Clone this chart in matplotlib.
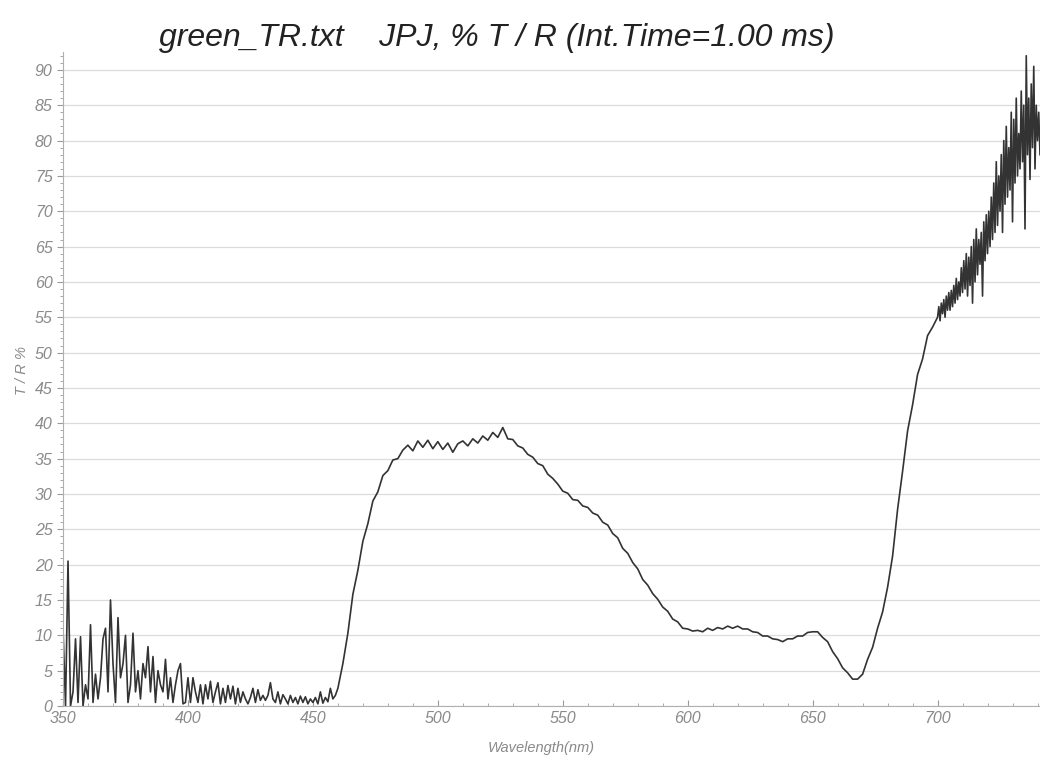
import numpy as np
import matplotlib
matplotlib.use("Agg")
import matplotlib.pyplot as plt
from matplotlib.ticker import MultipleLocator

# Valores lidos do espectro (green_TR.txt)
# faixa azul, ruidosa, 350-460 nm, passo 1 nm
wl_azul = np.arange(350, 461, 1)
tr_azul = [11, 0, 20.5, 0, 2, 9.5, 0.5, 9.8, 0, 3,
           1, 11.5, 0.5, 4.5, 1, 4, 9.5, 11, 2, 15,
           6, 0.5, 12.5, 4, 6, 10, 0.5, 3, 10.3, 2,
           5, 1, 6, 4, 8.4, 2, 7, 0.5, 5, 3,
           2, 6.6, 1, 4, 0.5, 3, 5, 6, 0.3, 0.5,
           4, 0.5, 4, 2, 0.5, 3, 0.3, 3, 1, 3.5,
           0.5, 2, 3.3, 0.3, 2.5, 0.5, 2.9, 1, 2.8, 0.3,
           2.5, 0.5, 2, 1, 0.3, 1.2, 2.5, 0.5, 2.3, 0.8,
           1.5, 0.8, 1.5, 3.3, 1, 0.5, 2, 0.3, 1.6, 1,
           0.3, 1.5, 0.5, 1.2, 0.3, 1.4, 0.5, 1.3, 0.3, 1,
           0.5, 1.2, 0.3, 2, 0.4, 1.2, 0.6, 2.5, 1, 1.5,
           2.5]

# faixa central, 462-698 nm, passo 2 nm
wl_meio = np.arange(462, 699, 2)
tr_meio = [6, 10.3, 15.8, 19.2, 23.3, 25.8, 29.0, 30.3, 32.6, 33.3,
           34.8, 35.0, 36.2, 36.9, 36.1, 37.5, 36.6, 37.6, 36.4, 37.4,
           36.3, 37.2, 35.9, 37.1, 37.5, 36.8, 37.8, 37.2, 38.2, 37.6,
           38.7, 38.0, 39.4, 37.8, 37.7, 36.8, 36.5, 35.6, 35.2, 34.3,
           34.0, 32.8, 32.2, 31.4, 30.4, 30.1, 29.2, 29.1, 28.3, 28.1,
           27.3, 27.0, 26.0, 25.6, 24.4, 23.8, 22.3, 21.6, 20.3, 19.4,
           17.9, 17.1, 15.9, 15.1, 14.0, 13.4, 12.3, 11.9, 11.0, 10.9,
           10.6, 10.7, 10.5, 11.0, 10.7, 11.1, 10.9, 11.3, 11.0, 11.3,
           10.9, 10.9, 10.5, 10.4, 9.9, 9.9, 9.5, 9.4, 9.1, 9.5,
           9.5, 9.9, 9.9, 10.4, 10.5, 10.5, 9.7, 9.1, 7.7, 6.7,
           5.4, 4.7, 3.8, 3.8, 4.5, 6.6, 8.3, 11.0, 13.3, 16.8,
           21.2, 27.8, 33.2, 38.9, 42.6, 46.9, 49.1, 52.4, 53.6]

# faixa vermelha, ruidosa, 700-741 nm, passo 0.5 nm
wl_verm = np.arange(700, 741.01, 0.5)
tr_verm = [55, 56.5, 54.5, 57, 55.5, 57.5, 55, 58, 56, 58.5,
           56, 58.8, 56.5, 59.5, 57, 60.5, 57.5, 60, 58, 62,
           58.5, 63, 59, 64, 58, 63.5, 59.5, 65, 57, 66,
           60, 67.5, 61, 66, 62.5, 67, 58, 68.5, 63, 69.5,
           64, 70, 65, 72, 66, 74, 67, 77, 68, 75,
           70, 78, 67, 80, 71, 82, 72, 79, 73, 84,
           68.5, 83, 74, 86, 75, 81, 76, 87, 77, 85,
           67.5, 92, 78, 86, 74.5, 88, 79, 90.5, 76, 85,
           80, 84, 78]

wl = np.concatenate([wl_azul, wl_meio, wl_verm])
tr = np.concatenate([tr_azul, tr_meio, tr_verm])

cinza = '#8a8a8a'
fig = plt.figure(figsize=(10.4, 7.62), dpi=100)
ax = fig.add_axes([0.0606, 0.0735, 0.9394, 0.858])
ax.plot(wl, tr, color='#333333', linewidth=1.2)

ax.set_xlim(350, 741)
ax.set_ylim(0, 92.5)
ax.xaxis.set_major_locator(MultipleLocator(50))
ax.xaxis.set_minor_locator(MultipleLocator(10))
ax.yaxis.set_major_locator(MultipleLocator(5))
ax.yaxis.set_minor_locator(MultipleLocator(1))
ax.grid(True, axis='y', which='major', color='#dcdcdc', linewidth=0.9)
ax.set_axisbelow(True)

for s in ['top', 'right']:
    ax.spines[s].set_visible(False)
for s in ['left', 'bottom']:
    ax.spines[s].set_color('#b0b0b0')
    ax.spines[s].set_linewidth(0.8)

ax.tick_params(axis='both', which='both', colors='#9a9a9a', direction='in')
ax.tick_params(axis='both', which='major', length=4, labelsize=11.5,
               labelcolor=cinza)
ax.tick_params(axis='both', which='minor', length=2)
ax.tick_params(axis='y', which='both', direction='out')
for lab in ax.get_xticklabels() + ax.get_yticklabels():
    lab.set_fontstyle('italic')
    lab.set_family('Liberation Sans')

fig.text(0.478, 0.950, 'green_TR.txt    JPJ, % T / R (Int.Time=1.00 ms)',
         ha='center', va='center', fontsize=23, style='italic',
         family='Liberation Sans', color='#222222')
fig.text(0.52, 0.018, 'Wavelength(nm)', ha='center', va='center',
         fontsize=10.5, style='italic', family='Liberation Sans', color=cinza)
fig.text(0.021, 0.514, 'T / R %', ha='center', va='center', rotation=90,
         fontsize=10.5, style='italic', family='Liberation Sans', color=cinza)

fig.savefig('out.png', dpi=100)
